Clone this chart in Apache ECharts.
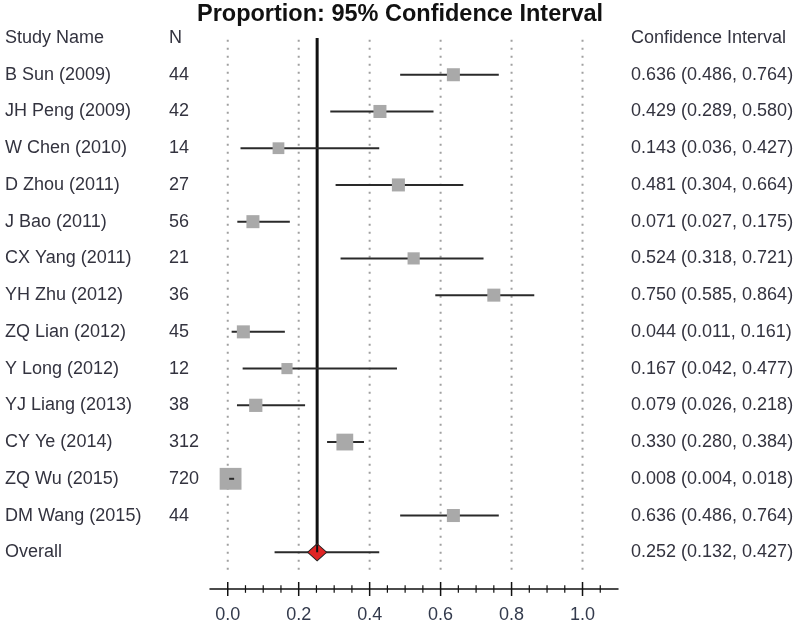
<!DOCTYPE html>
<html>
<head>
<meta charset="utf-8">
<script src="https://cdn.jsdelivr.net/npm/echarts@6/dist/echarts.min.js"></script>
<style>html,body{margin:0;padding:0;background:#fff}#c{width:800px;height:620px}</style>
</head>
<body>
<div id="c"></div>
<script>
// ---- data ----
const titleText = "Proportion: 95% Confidence Interval";
const headerName = "Study Name";
const headerN = "N";
const headerCI = "Confidence Interval";
const studies = ["B Sun (2009)","JH Peng (2009)","W Chen (2010)","D Zhou (2011)","J Bao (2011)","CX Yang (2011)","YH Zhu (2012)","ZQ Lian (2012)","Y Long (2012)","YJ Liang (2013)","CY Ye (2014)","ZQ Wu (2015)","DM Wang (2015)"];
const nValues = [44,42,14,27,56,21,36,45,12,38,312,720,44];
const est   = [0.636,0.429,0.143,0.481,0.071,0.524,0.750,0.044,0.167,0.079,0.330,0.008,0.636];
const lower = [0.486,0.289,0.036,0.304,0.027,0.318,0.585,0.011,0.042,0.026,0.280,0.004,0.486];
const upper = [0.764,0.580,0.427,0.664,0.175,0.721,0.864,0.161,0.477,0.218,0.384,0.018,0.764];
const weights = [6.2,6.2,5.6,6.2,6.2,5.8,6.2,6.2,5.3,6.3,8.0,10.4,6.2]; // relative study weights (%)
const overallLabel = "Overall";
const overallEst = 0.252, overallLower = 0.132, overallUpper = 0.427;
const majorTicks = [0,0.2,0.4,0.6,0.8,1.0];
const tickLabels = ["0.0","0.2","0.4","0.6","0.8","1.0"];
const minorTicks = [0.05,0.1,0.15,0.25,0.3,0.35,0.45,0.5,0.55,0.65,0.7,0.75,0.85,0.9,0.95,1.05];

// ---- layout/style ----
const FONT = "'Liberation Sans', Arial, sans-serif";
const TXT = '#33333f';
const rowCount = studies.length + 2; // header + studies + overall
const axisRow = rowCount;             // extra row for the axis
const gridTopRow = 0.05, gridBottomRow = 14.62;

const fmt = v => v.toFixed(3);
const nameCats = [headerName].concat(studies, [overallLabel, ""]);
const nCats = [headerN].concat(nValues.map(String), ["", ""]);
const ciCats = [headerCI].concat(studies.map((s,i)=>fmt(est[i])+" ("+fmt(lower[i])+", "+fmt(upper[i])+")"),
  [fmt(overallEst)+" ("+fmt(overallLower)+", "+fmt(overallUpper)+")", ""]);

const ciData = studies.map((s,i)=>[lower[i], upper[i], i+1, est[i], weights[i]]);
const tickData = majorTicks.map(t=>[t, 7, 1.5]).concat(minorTicks.map(t=>[t, 3.8, 1.2]));
const chart = echarts.init(document.getElementById('c'), null, {renderer:'canvas'});

function catAxis(data, pos, margin, color){
  return {type:'category', data, position:pos, inverse:true, boundaryGap:false, offset:0,
    axisLine:{show:false}, axisTick:{show:false}, splitLine:{show:false},
    axisLabel:{interval:0, align:'left', margin, color: color||TXT, fontSize:18, fontFamily:FONT}};
}

chart.setOption({
  animation:false,
  title:{text:titleText, left:'center', top:-2, textStyle:{fontSize:23.5, fontWeight:'bold', fontFamily:FONT, color:'#111'}},
  grid:{left:210, right:182, top:38, bottom:31, containLabel:false, outerBoundsMode:'none'},
  xAxis:{type:'value', min:-0.05, max:1.10, position:'bottom', splitLine:{show:false},
    axisLine:{show:true, onZero:false, lineStyle:{color:'#111', width:1.5}},
    axisTick:{show:false},
    axisLabel:{show:true, customValues:majorTicks, margin:17, color:'#333a4c', fontSize:18, fontFamily:FONT,
      formatter: v => { const k = majorTicks.findIndex(t=>Math.abs(t-v)<1e-9); return k>=0 ? tickLabels[k] : ''; }}},
  yAxis:[{type:'value', min:0, max:axisRow, inverse:true, show:false},
         catAxis(nameCats, 'left', 205),
         catAxis(nCats, 'left', 41),
         catAxis(ciCats, 'right', 13)],
  series:[
    { // dotted reference gridlines
      type:'custom', z:1, silent:true,
      data: majorTicks.map(t=>[t]),
      encode:{x:0},
      renderItem:(p, api)=>{
        const a = api.coord([api.value(0), gridTopRow]);
        const b = api.coord([api.value(0), gridBottomRow]);
        return {type:'line', shape:{x1:a[0],y1:a[1],x2:b[0],y2:b[1]},
          style:{stroke:'#a0a0a0', lineWidth:2, lineDash:[2,6]}};
      }
    },
    { // axis ticks crossing the axis line
      type:'custom', z:2, silent:true,
      data: tickData,
      encode:{x:0},
      renderItem:(p, api)=>{
        const c = api.coord([api.value(0), axisRow]);
        const len = api.value(1);
        return {type:'line', shape:{x1:c[0],y1:c[1]-len,x2:c[0],y2:c[1]+len},
          style:{stroke:'#111', lineWidth:api.value(2)}};
      }
    },
    { // vertical line at overall estimate
      type:'line', z:3, symbol:'none', silent:true,
      data:[[overallEst, 0],[overallEst, rowCount-1]],
      lineStyle:{color:'#111', width:3}
    },
    { // study CIs and squares
      type:'custom', z:4, silent:true,
      data: ciData,
      encode:{x:[0,1,3], y:2},
      renderItem:(p, api)=>{
        const a = api.coord([api.value(0), api.value(2)]);
        const b = api.coord([api.value(1), api.value(2)]);
        const c = api.coord([api.value(3), api.value(2)]);
        const s = 2.1*api.value(4);
        const line = {type:'line', shape:{x1:a[0],y1:a[1],x2:b[0],y2:b[1]}, style:{stroke:'#2a2a2a', lineWidth:2}};
        const sq = {type:'rect', shape:{x:c[0]-s/2, y:c[1]-s/2, width:s, height:s}, style:{fill:'#a9a9a9'}};
        const inside = (b[0]-a[0]) < s;
        return {type:'group', children: inside ? [sq, line] : [line, sq]};
      }
    },
    { // overall CI line
      type:'custom', z:4, silent:true,
      data:[[overallLower, overallUpper, rowCount-1]],
      encode:{x:[0,1], y:2},
      renderItem:(p, api)=>{
        const a = api.coord([api.value(0), api.value(2)]);
        const b = api.coord([api.value(1), api.value(2)]);
        return {type:'line', shape:{x1:a[0],y1:a[1],x2:b[0],y2:b[1]}, style:{stroke:'#2a2a2a', lineWidth:2}};
      }
    },
    { // overall diamond
      type:'scatter', z:5, silent:true, symbol:'diamond', symbolSize:[19,17],
      data:[[overallEst, rowCount-1]],
      itemStyle:{color:'#e02424', borderColor:'#222', borderWidth:1, opacity:1}
    },
    { // vertical line continues onto diamond top half
      type:'line', z:6, symbol:'none', silent:true,
      data:[[overallEst, rowCount-1.2],[overallEst, rowCount-1]],
      lineStyle:{color:'#111', width:2}
    }
  ]
});
</script>
</body>
</html>
